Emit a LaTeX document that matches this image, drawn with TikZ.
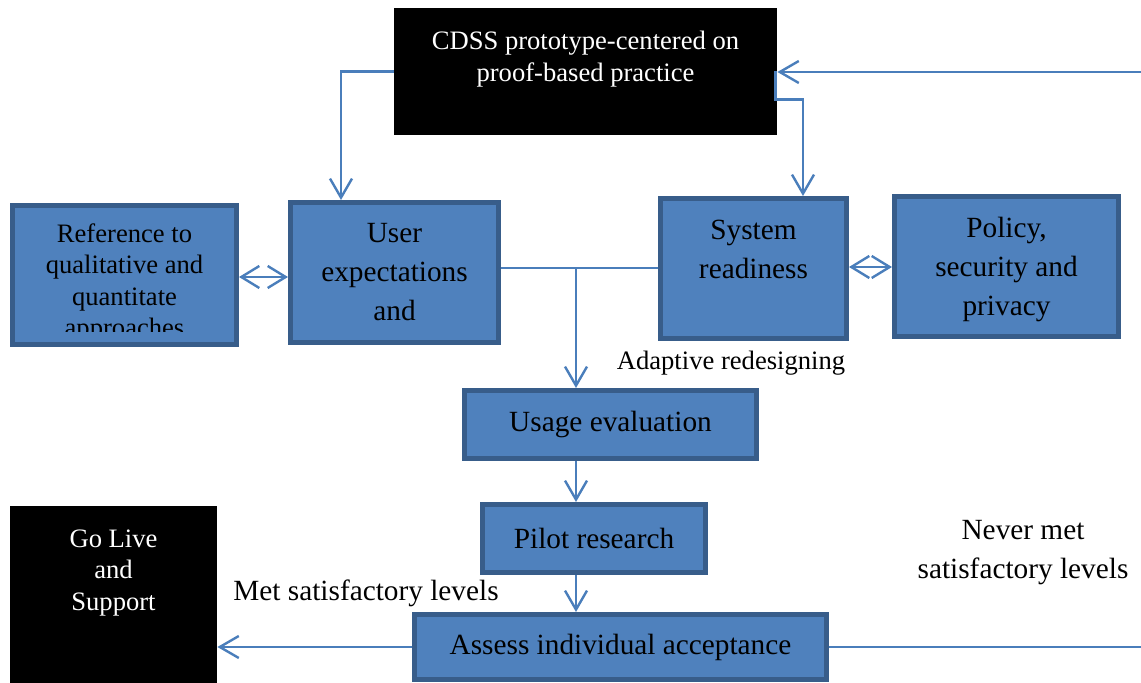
\documentclass[tikz,border=0pt]{standalone}
\usepackage{fontspec}
\setmainfont{Liberation Serif}
\usetikzlibrary{arrows.meta}

\definecolor{boxblue}{HTML}{4F81BD}
\definecolor{edgeblue}{HTML}{385D8A}
\definecolor{lineblue}{HTML}{4A7EBB}

\tikzset{
  bluebox/.style={shape=rectangle, draw=edgeblue, fill=boxblue, line width=2.5pt, inner sep=0pt},
  blackbox/.style={shape=rectangle, fill=black, inner sep=0pt},
  bigtext/.style={align=center, font=\fontsize{14.65}{19.5}\selectfont, inner sep=0pt},
  smalltext/.style={align=center, font=\fontsize{13.3}{15.75}\selectfont, inner sep=0pt},
  link/.style={draw=lineblue, line width=1.2pt},
  flow/.style={link, -{Straight Barb[length=9.5pt,width=11pt]}},
  both/.style={link, {Straight Barb[length=9pt,width=11pt]}-{Straight Barb[length=9pt,width=11pt]}}
}

\begin{document}
\begin{tikzpicture}[x=0.5pt,y=-0.5pt]
    \useasboundingbox (0,0) rectangle (1141,683);
    % prototype box
    \node[blackbox, minimum width=191.5pt, minimum height=63.5pt](cdss) at (585.5,71.5) {};
    \node[smalltext, text=white, anchor=north](cdsstext) at (585.5,31) {CDSS prototype-centered on\\proof-based practice};
    % middle row
    \node[bluebox, minimum width=112pt, minimum height=69.5pt](ref) at (124.5,275) {};
    \begin{scope}
        \clip (15,208) rectangle (234,332);
        \node[smalltext, anchor=north](reftext) at (124.5,223) {Reference to\\qualitative and\\quantitate\\approaches};
    \end{scope}
    \node[bluebox, minimum width=104pt, minimum height=70pt](user) at (394.5,272.5) {};
    \node[bigtext, anchor=north](usertext) at (394.5,223) {User\\expectations\\and};
    \node[bluebox, minimum width=93pt, minimum height=70pt](sys) at (753.5,268.5) {};
    \node[bigtext, anchor=north](systext) at (753.5,220) {System\\readiness};
    \node[bluebox, minimum width=112pt, minimum height=70pt](policy) at (1006.5,266.5) {};
    \node[bigtext, anchor=north](policytext) at (1006.5,217) {Policy,\\security and\\privacy};
    % lower chain
    \node[bluebox, bigtext, minimum width=146pt, minimum height=34pt](usage) at (610.5,424.5) {Usage evaluation};
    \node[bluebox, bigtext, minimum width=111.5pt, minimum height=34pt](pilot) at (594,538.5) {Pilot research};
    \node[bluebox, bigtext, minimum width=206pt, minimum height=32.5pt](assess) at (620.5,647) {Assess individual acceptance};
    \node[blackbox, minimum width=103.5pt, minimum height=88.5pt](golive) at (113.5,594.5) {};
    \node[smalltext, text=white, anchor=north](golivetext) at (113.5,529) {Go Live\\and\\Support};
    % labels
    \node[smalltext](adaptive) at (731,363) {Adaptive redesigning};
    \node[bigtext](nevermet) at (1023,553) {Never met\\satisfactory levels};
    \node[bigtext](met) at (366,593) {Met satisfactory levels};
    % connectors
    \coordinate (split) at (576,268);
    \coordinate (rtop) at (1141,72);
    \coordinate (rbot) at (1141,647);
    \draw[flow] (cdss.west) -| (user.north -| 341,0);
    \draw[flow] ([xshift=-1pt]cdss.east) -- ++(0,28) -| (sys.north -| 803,0);
    \draw[flow] (rtop) -- (cdss.east |- rtop);
    \draw[link] (assess.east) -- (rbot);
    \draw[both] (ref.east |- 0,277) -- (user.west |- 0,277);
    \draw[both] (sys.east |- 0,267) -- (policy.west |- 0,267);
    \draw[link] (user.east |- split) -- (sys.west |- split);
    \draw[flow] (split) -- (split |- usage.north);
    \draw[flow] (usage.south -| split) -- (split |- pilot.north);
    \draw[flow] (pilot.south -| split) -- (split |- assess.north);
    \draw[flow] (assess.west) -- (golive.east |- assess.west);
\end{tikzpicture}
\end{document}
